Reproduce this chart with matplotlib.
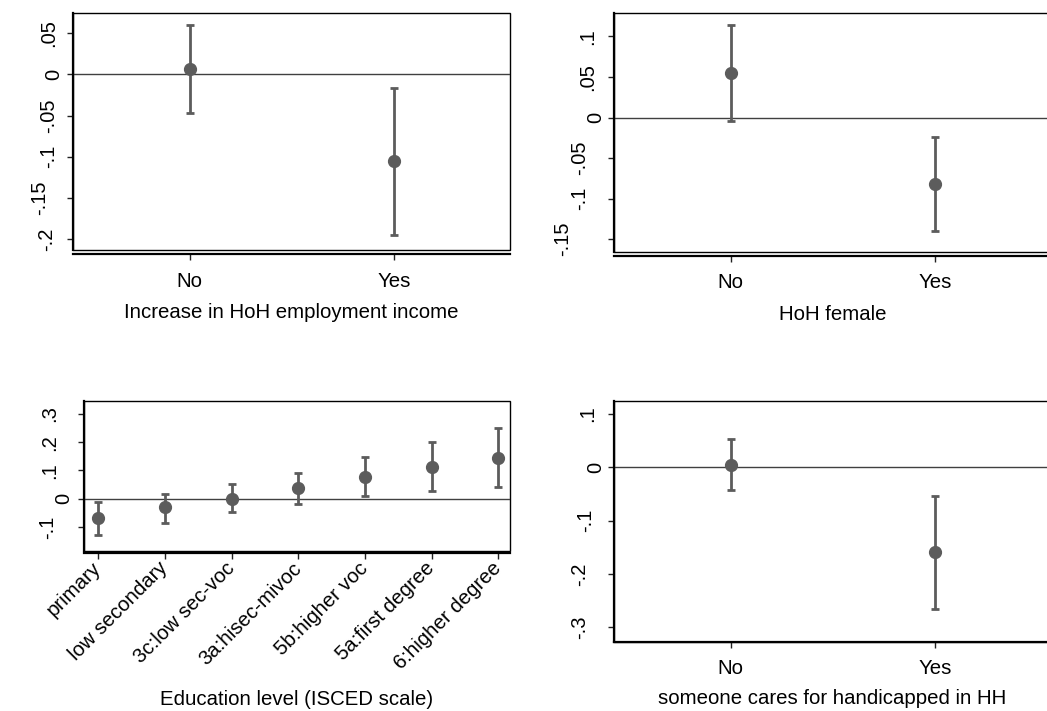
import matplotlib
matplotlib.use("Agg")
import matplotlib.pyplot as plt
from matplotlib.patches import Rectangle

plt.rcParams['font.family'] = ['Liberation Sans', 'DejaVu Sans']
plt.rcParams['font.size'] = 14.7

# predictive margins with 95% CIs
yes_no = ["No", "Yes"]

income_est = [0.0066, -0.1056]
income_lo = [-0.0465, -0.195]
income_hi = [0.060, -0.0162]
income_yticks = [0.05, 0, -0.05, -0.1, -0.15, -0.2]
income_ylabels = [".05", "0", "-.05", "-.1", "-.15", "-.2"]

female_est = [0.0548, -0.0822]
female_lo = [-0.0041, -0.1398]
female_hi = [0.1144, -0.0238]
female_yticks = [0.1, 0.05, 0, -0.05, -0.1, -0.15]
female_ylabels = [".1", ".05", "0", "-.05", "-.1", "-.15"]

edu_levels = ["primary", "low secondary", "3c:low sec-voc", "3a:hisec-mivoc",
              "5b:higher voc", "5a:first degree", "6:higher degree"]
edu_est = [-0.068, -0.031, 0.0, 0.038, 0.076, 0.113, 0.145]
edu_lo = [-0.129, -0.086, -0.048, -0.018, 0.008, 0.028, 0.040]
edu_hi = [-0.011, 0.017, 0.053, 0.091, 0.149, 0.200, 0.249]
edu_yticks = [0.3, 0.2, 0.1, 0, -0.1]
edu_ylabels = [".3", ".2", ".1", "0", "-.1"]

care_est = [0.005, -0.158]
care_lo = [-0.043, -0.266]
care_hi = [0.054, -0.054]
care_yticks = [0.1, 0, -0.1, -0.2, -0.3]
care_ylabels = [".1", "0", "-.1", "-.2", "-.3"]

W, H = 1047, 711
fig = plt.figure(figsize=(W / 100, H / 100), dpi=100)


def px_axes(left, right, top, bottom):
    return fig.add_axes([left / W, (H - bottom) / H, (right - left) / W, (bottom - top) / H])


def margins_panel(ax, cats, est, lo, hi, yticks, ylabels, xlabel, ylim, xlim,
                  label_gaps, offset=3, rot=0, labelpad=9):
    x = list(range(len(cats)))
    err = [[e - l for e, l in zip(est, lo)], [h - e for e, h in zip(est, hi)]]
    ax.axhline(0, color='#404040', lw=1.0, zorder=1)
    ax.errorbar(x, est, yerr=err, fmt='o', color='#5c5c5c', ms=8.5,
                elinewidth=2.0, capsize=3.2, capthick=2.0, zorder=3)
    ax.set_xlim(*xlim)
    ax.set_ylim(*ylim)
    ax.set_yticks(yticks)
    ax.set_yticklabels(ylabels, fontsize=14.5)
    ax.set_xticks(x)
    for s in ax.spines.values():
        s.set_visible(False)
    ax.spines['left'].set_visible(True)
    ax.spines['left'].set_linewidth(1.6)
    ax.spines['bottom'].set_visible(True)
    ax.spines['bottom'].set_linewidth(1.6)
    ax.spines['bottom'].set_position(('outward', offset))
    ax.add_patch(Rectangle((0, 0), 1, 1, transform=ax.transAxes, fill=False,
                           lw=1.0, ec='black', clip_on=False, zorder=0))
    ax.tick_params(axis='both', length=4.5, width=1.0, color='#222222')
    ax.tick_params(axis='y', labelrotation=90)
    for lab in ax.get_yticklabels():
        lab.set_va('center')
    # Stata staggers its rotated y labels; gaps in px from tick end to baseline
    for t, g in zip(ax.yaxis.get_major_ticks(), label_gaps):
        t.set_pad(max(g - 4, 1) * 0.72)
    if rot:
        ax.set_xticklabels(cats, rotation=rot, ha='right', va='center',
                           rotation_mode='anchor', fontsize=14.7)
        ax.tick_params(axis='x', pad=4)
    else:
        ax.set_xticklabels(cats, fontsize=14.7)
        ax.tick_params(axis='x', pad=8)
    ax.set_xlabel(xlabel, labelpad=labelpad)


ax1 = px_axes(73, 510, 13, 250)
margins_panel(ax1, yes_no, income_est, income_lo, income_hi, income_yticks, income_ylabels,
              "Increase in HoH employment income", (-0.2134, 0.0747), (-0.57, 1.565),
              [13, 7, 13, 13, 22, 15])

ax2 = px_axes(614, 1051, 13, 251.7)
margins_panel(ax2, yes_no, female_est, female_lo, female_hi, female_yticks, female_ylabels,
              "HoH female", (-0.1654, 0.1289), (-0.57, 1.565),
              [15, 15, 7, 23, 23, 40])

ax3 = px_axes(84, 510, 400.7, 550.7)
margins_panel(ax3, edu_levels, edu_est, edu_lo, edu_hi, edu_yticks, edu_ylabels,
              "Education level (ISCED scale)", (-0.184, 0.347), (-0.215, 6.175),
              [23, 23, 23, 8, 25], offset=2, rot=45, labelpad=12)

ax4 = px_axes(614, 1051, 400.7, 641.7)
margins_panel(ax4, yes_no, care_est, care_lo, care_hi, care_yticks, care_ylabels,
              "someone cares for handicapped in HH", (-0.327, 0.125), (-0.57, 1.565),
              [15, 7, 17, 23, 23], offset=0, labelpad=8)

fig.savefig("out.png", dpi=100)
